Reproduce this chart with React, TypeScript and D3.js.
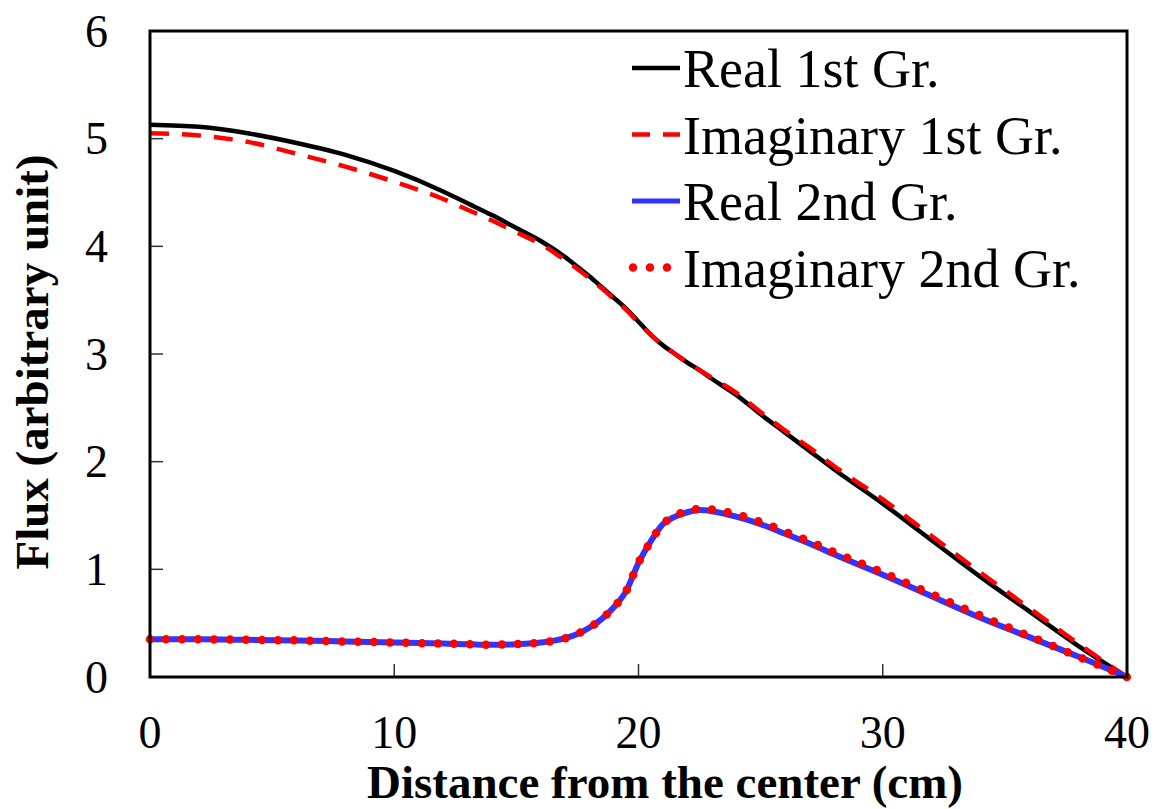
import React, {useEffect, useRef} from 'react'
import * as d3 from 'd3'

// distance from center (cm)
const distance = [0, 2, 4, 6, 8, 10, 12, 13, 14, 15, 16, 17, 17.5, 18, 18.5, 19, 19.5, 20, 20.5, 21, 21.5, 22, 22.5, 23, 24, 25, 26, 27, 28, 30, 32, 34, 36, 38, 40]

const real1 = [5.13, 5.11, 5.05, 4.96, 4.85, 4.70, 4.51, 4.40, 4.29, 4.17, 4.05, 3.90, 3.81, 3.72, 3.62, 3.52, 3.42, 3.30, 3.18, 3.08, 3.00, 2.92, 2.85, 2.77, 2.62, 2.44, 2.27, 2.10, 1.93, 1.61, 1.27, 0.93, 0.61, 0.29, 0]
const imag1 = [5.05, 5.03, 4.97, 4.86, 4.74, 4.60, 4.44, 4.34, 4.24, 4.13, 4.02, 3.87, 3.79, 3.70, 3.61, 3.51, 3.41, 3.29, 3.18, 3.08, 3.00, 2.92, 2.85, 2.78, 2.64, 2.46, 2.29, 2.13, 1.96, 1.65, 1.31, 0.97, 0.64, 0.31, 0]
const real2 = [0.35, 0.35, 0.345, 0.34, 0.33, 0.32, 0.31, 0.305, 0.30, 0.305, 0.32, 0.36, 0.40, 0.46, 0.54, 0.65, 0.80, 1.06, 1.26, 1.42, 1.49, 1.53, 1.55, 1.54, 1.49, 1.42, 1.33, 1.24, 1.14, 0.95, 0.75, 0.55, 0.37, 0.19, 0]
const imag2 = [0.35, 0.35, 0.345, 0.34, 0.33, 0.32, 0.31, 0.305, 0.30, 0.305, 0.32, 0.36, 0.40, 0.46, 0.54, 0.65, 0.80, 1.06, 1.26, 1.42, 1.50, 1.54, 1.56, 1.555, 1.51, 1.44, 1.35, 1.26, 1.16, 0.97, 0.77, 0.57, 0.38, 0.19, 0]

const xTicks = [0, 10, 20, 30, 40]
const yTicks = [0, 1, 2, 3, 4, 5, 6]

const seriesNames = ['Real 1st Gr.', 'Imaginary 1st Gr.', 'Real 2nd Gr.', 'Imaginary 2nd Gr.']

export default function App() {
    const ref = useRef(null)

    useEffect(() => {
        const width = 1157, height = 809
        const margin = {top: 31, right: 30, bottom: 132, left: 150}
        const font = '"Liberation Serif", "Times New Roman", serif'

        const svg = d3.select(ref.current)
        svg.selectAll('*').remove()
        svg.attr('width', width).attr('height', height)

        const x = d3.scaleLinear().domain([0, 40]).range([margin.left, width - margin.right])
        const y = d3.scaleLinear().domain([0, 6]).range([height - margin.bottom, margin.top])

        // ticks (inside)
        const tickG = svg.append('g').attr('stroke', '#333').attr('stroke-width', 1.5)
        yTicks.forEach(t => {
            tickG.append('line').attr('x1', x(0)).attr('x2', x(0) + 13).attr('y1', y(t)).attr('y2', y(t))
        })
        xTicks.forEach(t => {
            tickG.append('line').attr('x1', x(t)).attr('x2', x(t)).attr('y1', y(0)).attr('y2', y(0) - 13)
        })

        // tick labels
        yTicks.forEach(t => {
            svg.append('text')
                .attr('x', 108).attr('y', y(t))
                .attr('dy', '0.34em')
                .attr('text-anchor', 'end')
                .style('font-family', font).style('font-size', '46px')
                .text(t)
        })
        xTicks.forEach(t => {
            svg.append('text')
                .attr('x', x(t)).attr('y', 748)
                .attr('text-anchor', 'middle')
                .style('font-family', font).style('font-size', '46px')
                .text(t)
        })

        // axis titles
        svg.append('text')
            .attr('x', 665).attr('y', 798)
            .attr('text-anchor', 'middle')
            .style('font-family', font).style('font-size', '47px').style('font-weight', 'bold')
            .text('Distance from the center (cm)')
        svg.append('text')
            .attr('transform', 'translate(48,362) rotate(-90)')
            .attr('text-anchor', 'middle')
            .style('font-family', font).style('font-size', '47px').style('font-weight', 'bold')
            .text('Flux (arbitrary unit)')

        const line = (vals) => d3.line()
            .x((d, i) => x(distance[i]))
            .y(d => y(d))
            .curve(d3.curveMonotoneX)(vals)

        svg.append('path').attr('d', line(real1))
            .attr('fill', 'none').attr('stroke', '#000').attr('stroke-width', 4.5)
        svg.append('path').attr('d', line(imag1))
            .attr('fill', 'none').attr('stroke', '#ff0000').attr('stroke-width', 4.5)
            .attr('stroke-dasharray', '19 13')
        svg.append('path').attr('d', line(real2))
            .attr('fill', 'none').attr('stroke', '#3333ff').attr('stroke-width', 6)
        svg.append('path').attr('d', line(imag2))
            .attr('fill', 'none').attr('stroke', '#ff0000').attr('stroke-width', 8.5)
            .attr('stroke-linecap', 'round').attr('stroke-dasharray', '0 16')

        // frame
        svg.append('rect')
            .attr('x', x(0)).attr('y', y(6))
            .attr('width', x(40) - x(0)).attr('height', y(0) - y(6))
            .attr('fill', 'none').attr('stroke', '#000').attr('stroke-width', 3)

        // legend
        const legendStyles = [
            {stroke: '#000', w: 4.5, dash: null, cap: 'butt'},
            {stroke: '#ff0000', w: 4.5, dash: '18 13', cap: 'butt'},
            {stroke: '#3333ff', w: 5, dash: null, cap: 'butt'},
            {stroke: '#ff0000', w: 8.5, dash: '0 17', cap: 'round'},
        ]
        seriesNames.forEach((name, i) => {
            const cy = 68 + i * 66.5
            const s = legendStyles[i]
            svg.append('line')
                .attr('x1', s.cap === 'round' ? 633 : 632).attr('x2', 680)
                .attr('y1', cy).attr('y2', cy)
                .attr('stroke', s.stroke).attr('stroke-width', s.w)
                .attr('stroke-dasharray', s.dash).attr('stroke-linecap', s.cap)
            svg.append('text')
                .attr('x', 683).attr('y', cy + 19)
                .style('font-family', font).style('font-size', '54px')
                .text(name)
        })
    }, [])

    return (
        <div>
            <svg ref={ref} style={{position: 'absolute', left: 0, top: 0, background: '#fff'}}></svg>
        </div>
    )
}
